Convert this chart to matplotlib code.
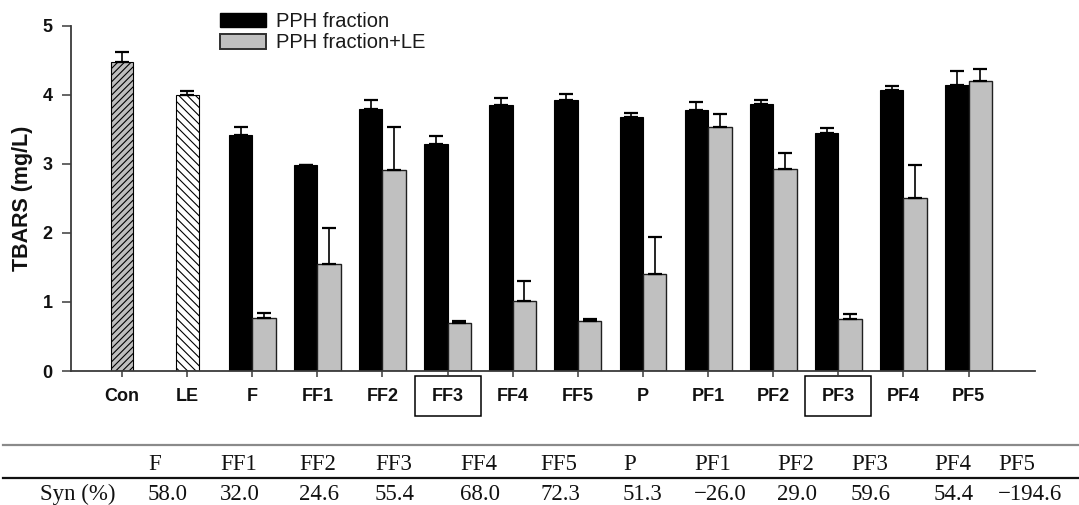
import numpy as np
import matplotlib
matplotlib.use("Agg")
import matplotlib.pyplot as plt
from matplotlib.patches import Patch, Rectangle
from matplotlib.lines import Line2D
import matplotlib.transforms as mtransforms

# ---------------- data ----------------
categories = ["Con", "LE", "F", "FF1", "FF2", "FF3", "FF4", "FF5",
              "P", "PF1", "PF2", "PF3", "PF4", "PF5"]
control_names = ["Con", "LE"]
control_values = [4.47, 3.99]
control_err = [0.15, 0.06]

fraction_names = ["F", "FF1", "FF2", "FF3", "FF4", "FF5",
                  "P", "PF1", "PF2", "PF3", "PF4", "PF5"]
pph_values = [3.42, 2.98, 3.79, 3.28, 3.85, 3.92, 3.68, 3.78, 3.86, 3.45, 4.07, 4.14]
pph_err = [0.12, 0.01, 0.13, 0.12, 0.10, 0.09, 0.06, 0.11, 0.06, 0.07, 0.05, 0.20]
pph_le_values = [0.77, 1.55, 2.91, 0.70, 1.02, 0.72, 1.40, 3.54, 2.93, 0.75, 2.51, 4.20]
pph_le_err = [0.07, 0.52, 0.62, 0.03, 0.28, 0.04, 0.54, 0.18, 0.22, 0.07, 0.48, 0.17]

boxed_labels = ["FF3", "PF3"]
legend_labels = ["PPH fraction", "PPH fraction+LE"]
y_label = "TBARS (mg/L)"
y_ticks = [0, 1, 2, 3, 4, 5]

syn_row_label = "Syn (%)"
syn_headers = ["F", "FF1", "FF2", "FF3", "FF4", "FF5", "P", "PF1", "PF2", "PF3", "PF4", "PF5"]
syn_values = ["58.0", "32.0", "24.6", "55.4", "68.0", "72.3", "51.3",
              "\u221226.0", "29.0", "59.6", "54.4", "\u2212194.6"]

# ---------------- layout (pixels) ----------------
W, H = 1079, 505
table_col_left_px = [148, 220, 299, 375, 460, 540, 623, 694, 777, 851, 934, 998]
syn_label_left_px = 40

plt.rcParams["font.family"] = ["Liberation Sans", "DejaVu Sans"]
plt.rcParams["hatch.linewidth"] = 0.8

fig = plt.figure(figsize=(W / 100, H / 100), dpi=100)
ax_left, ax_right, ax_top, ax_bottom = 71, 1035, 25.7, 371
ax = fig.add_axes([ax_left / W, (H - ax_bottom) / H,
                   (ax_right - ax_left) / W, (ax_bottom - ax_top) / H])

x = np.arange(len(categories))
idx = {c: i for i, c in enumerate(categories)}
xc = np.array([idx[c] for c in control_names])
xf = np.array([idx[c] for c in fraction_names])

bw = 0.36
gray = "#c0c0c0"

# control bars
ax.bar(xc[0], control_values[0], width=0.35, facecolor="#bdbdbd",
       edgecolor="black", linewidth=0.8, hatch="/////", zorder=2)
ax.bar(xc[1], control_values[1], width=0.35, facecolor="white",
       edgecolor="black", linewidth=0.8, hatch="\\\\\\\\", zorder=2)
ax.errorbar(xc, control_values, yerr=[np.zeros(len(xc)), control_err], fmt="none",
            ecolor="black", elinewidth=1.2, capsize=4.8, capthick=1.6, zorder=3)

# grouped bars
ax.bar(xf - bw / 2, pph_values, width=bw, facecolor="black",
       edgecolor="black", linewidth=0.8, zorder=2)
ax.bar(xf + bw / 2, pph_le_values, width=bw, facecolor=gray,
       edgecolor="#202020", linewidth=1.0, zorder=2)
ax.errorbar(xf - bw / 2, pph_values, yerr=[np.zeros(len(xf)), pph_err], fmt="none",
            ecolor="black", elinewidth=1.2, capsize=4.8, capthick=1.6, zorder=3)
ax.errorbar(xf + bw / 2, pph_le_values, yerr=[np.zeros(len(xf)), pph_le_err], fmt="none",
            ecolor="black", elinewidth=1.2, capsize=4.8, capthick=1.6, zorder=3)

ax.set_xlim(-0.783, 14.02)
ax.set_ylim(0, 5)
ax.set_xticks(x)
ax.set_xticklabels(categories, fontsize=13, fontweight="bold", color="#111111")
ax.set_yticks(y_ticks)
ax.set_yticklabels([str(t) for t in y_ticks], fontsize=13, fontweight="bold", color="#111111")
ax.set_ylabel(y_label, fontsize=15.5, fontweight="bold", color="#111111")
ax.yaxis.set_label_coords(-0.039, 0.5)

for s in ["top", "right"]:
    ax.spines[s].set_visible(False)
for s in ["left", "bottom"]:
    ax.spines[s].set_color("#3a3a3a")
    ax.spines[s].set_linewidth(1.3)
ax.tick_params(axis="x", direction="out", length=4.3, width=1.1, color="#3a3a3a", pad=8)
ax.tick_params(axis="y", direction="out", length=6.2, width=1.1, color="#3a3a3a", pad=7)

# boxes around selected tick labels
trans = mtransforms.blended_transform_factory(ax.transData, ax.transAxes)
ax_h_px = ax_bottom - ax_top
for lab in boxed_labels:
    i = idx[lab]
    y0 = -(415.7 - ax_bottom) / ax_h_px
    y1 = -(375.7 - ax_bottom) / ax_h_px
    ax.add_patch(Rectangle((i - 0.507, y0), 1.014, y1 - y0, transform=trans,
                           facecolor="none", edgecolor="black", linewidth=1.1,
                           clip_on=False))

# legend
handles = [Patch(facecolor="black", edgecolor="black", linewidth=1.0),
           Patch(facecolor=gray, edgecolor="#303030", linewidth=1.4)]
leg = fig.legend(handles, legend_labels, loc="upper left",
                 bbox_to_anchor=(220 / W, 1 - 12 / H), bbox_transform=fig.transFigure,
                 frameon=False, borderpad=0, borderaxespad=0,
                 handlelength=2.3, handleheight=0.75, handletextpad=0.5,
                 labelspacing=0.12, fontsize=14.5)
for t in leg.get_texts():
    t.set_color("#1a1a1a")

# table below
serif = ["Liberation Serif", "DejaVu Serif"]
fig.add_artist(Line2D([3 / W, 1.0], [1 - 445 / H, 1 - 445 / H], transform=fig.transFigure,
                      color="#8a8a8a", linewidth=1.6))
fig.add_artist(Line2D([3 / W, 1.0], [1 - 478 / H, 1 - 478 / H], transform=fig.transFigure,
                      color="#111111", linewidth=1.6))
hdr_base = 1 - 470 / H
val_base = 1 - 500 / H
fs_tab = 16.5
for lx, h, v in zip(table_col_left_px, syn_headers, syn_values):
    fig.text(lx / W, hdr_base, h, family=serif, fontsize=fs_tab, ha="left",
             va="baseline", color="#111111")
    fig.text(lx / W, val_base, v, family=serif, fontsize=fs_tab, ha="left",
             va="baseline", color="#111111")
fig.text(syn_label_left_px / W, val_base, syn_row_label, family=serif, fontsize=fs_tab,
         ha="left", va="baseline", color="#111111")

fig.savefig("out.png", dpi=100)
